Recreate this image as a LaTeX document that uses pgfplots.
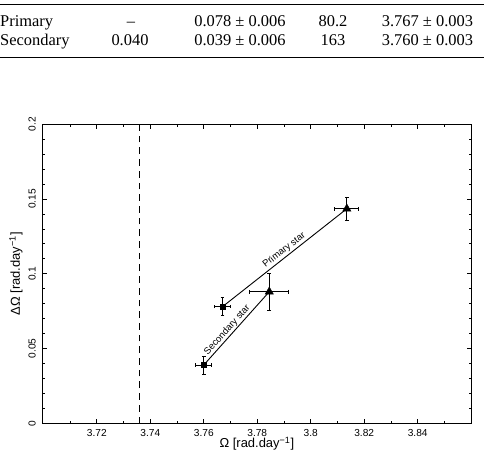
\documentclass[border=0pt]{standalone}
\usepackage{fontspec}
\setmainfont{Liberation Serif}
\newfontfamily\plotfont{Liberation Sans}
\usepackage{pgfplots}
\pgfplotsset{compat=1.18}

\begin{document}
\begin{tikzpicture}
\useasboundingbox (0,0) rectangle (484bp,458bp);

% --- table of fitted parameters ---
\draw[line width=1.1bp] (0,453.7bp) -- (484bp,453.7bp);
\draw[line width=1.1bp] (0,400.7bp) -- (484bp,400.7bp);
\begin{scope}[every node/.style={inner sep=0pt, font=\fontsize{16.5}{19}\selectfont}]
  \node[anchor=base west] at (0,431.3bp) {Primary};
  \node[anchor=base] at (131bp,431.3bp) {–};
  \node[anchor=base] at (240bp,431.3bp) {0.078 ± 0.006};
  \node[anchor=base] at (333bp,431.3bp) {80.2};
  \node[anchor=base] at (427.5bp,431.3bp) {3.767 ± 0.003};
  \node[anchor=base west] at (0,412bp) {Secondary};
  \node[anchor=base] at (130bp,412bp) {0.040};
  \node[anchor=base] at (240bp,412bp) {0.039 ± 0.006};
  \node[anchor=base] at (333bp,412bp) {163};
  \node[anchor=base] at (427.5bp,412bp) {3.760 ± 0.003};
\end{scope}

% --- differential rotation plot ---
\begin{axis}[
  at={(42bp,34.7bp)}, anchor=south west,
  scale only axis, width=429.7bp, height=299bp,
  xmin=3.6995, xmax=3.8602, ymin=0, ymax=0.2,
  axis line style={line width=0.9bp},
  tick align=inside,
  major tick length=4.7bp, minor tick length=2.5bp,
  every tick/.style={line width=0.8bp, black},
  xtick={3.72,3.74,3.76,3.78,3.80,3.82,3.84},
  xticklabels={3.72,3.74,3.76,3.78,3.8,3.82,3.84},
  minor xtick={3.71,3.73,3.75,3.77,3.79,3.81,3.83,3.85},
  ytick={0,0.05,0.1,0.15,0.2},
  yticklabels={0,0.05,0.1,0.15,0.2},
  minor ytick={0.01,0.02,0.03,0.04,0.06,0.07,0.08,0.09,0.11,0.12,0.13,0.14,0.16,0.17,0.18,0.19},
  ticklabel style={font=\plotfont\fontsize{10.2}{12}\selectfont, inner sep=0pt},
  xticklabel style={anchor=north},
  xticklabel shift=6bp,
  yticklabel style={rotate=90, anchor=south},
  yticklabel shift=6bp,
  xlabel={Ω [rad.day\textsuperscript{−1}]},
  ylabel={ΔΩ [rad.day\textsuperscript{−1}]},
  label style={font=\plotfont\fontsize{13}{15}\selectfont, inner sep=0pt},
  xlabel style={at={(axis description cs:0.5,-0.0692)}, anchor=center},
  ylabel style={at={(axis description cs:-0.0605,0.5)}, anchor=center},
  clip=false,
]
  % solid-body rotation limit
  \addplot[black, line width=0.9bp, dash pattern=on 6.7bp off 5bp]
    coordinates {(3.736,0) (3.736,0.2)};

  % links between the two estimates of each star
  \addplot[black, line width=0.9bp] coordinates {(3.767,0.078) (3.8135,0.1435)};
  \addplot[black, line width=0.9bp] coordinates {(3.760,0.039) (3.7845,0.088)};
  \node[rotate=38.2, anchor=south, inner sep=1.5bp,
        font=\plotfont\fontsize{9.5}{11}\selectfont]
    at (axis cs:3.7915,0.1126) {Primary star};
  \node[rotate=48.2, anchor=south, inner sep=1.5bp,
        font=\plotfont\fontsize{9.5}{11}\selectfont]
    at (axis cs:3.7705,0.0597) {Secondary star};

  % estimates with error bars
  \addplot[black, only marks, mark=square*, mark size=2.7bp,
    error bars/.cd, x dir=both, x explicit, y dir=both, y explicit,
    error bar style={line width=0.8bp},
    error mark options={rotate=90, mark size=1.8bp, line width=0.8bp}]
    coordinates {(3.767,0.078) +- (0.003,0.006)
                 (3.760,0.039) +- (0.003,0.006)};
  \addplot[black, only marks, mark=triangle*, mark size=4.8bp,
    error bars/.cd, x dir=both, x explicit, y dir=both, y explicit,
    error bar style={line width=0.8bp},
    error mark options={rotate=90, mark size=1.8bp, line width=0.8bp}]
    coordinates {(3.8135,0.1435) +- (0.0045,0.0078)
                 (3.7845,0.088) +- (0.0073,0.0125)};
\end{axis}
\end{tikzpicture}
\end{document}
